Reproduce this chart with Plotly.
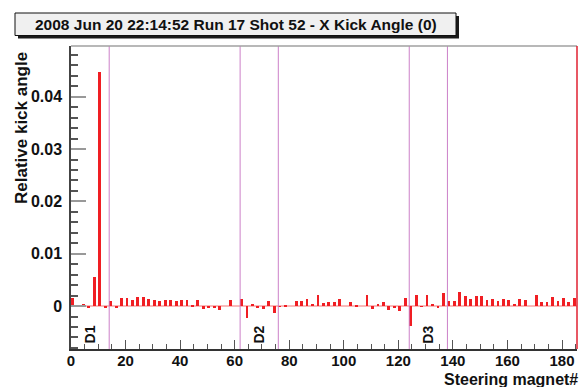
import plotly.graph_objects as go

# Steering magnet numbers (every second channel) and relative X kick angles
magnets = list(range(0, 186, 2))
kick = [
    0.0016, 0.0000, 0.0004, -0.0002, 0.0056, 0.0448, -0.0002, 0.0010, -0.0002, 0.0015,
    0.0016, 0.0012, 0.0017, 0.0017, 0.0014, 0.0011, 0.0010, 0.0012, 0.0011, 0.0010,
    0.0012, 0.0011, 0.0001, 0.0012, -0.0005, -0.0004, -0.0003, -0.0008, 0.0000, 0.0011,
    0.0000, 0.0013, -0.0023, 0.0004, -0.0002, -0.0005, 0.0010, -0.0014, -0.0001, 0.0003,
    0.0000, 0.0010, 0.0010, 0.0013, 0.0004, 0.0021, 0.0006, 0.0007, 0.0008, 0.0013,
    0.0000, 0.0008, 0.0003, 0.0000, 0.0021, -0.0006, 0.0004, 0.0008, -0.0008, -0.0003,
    -0.0010, 0.0016, -0.0038, 0.0021, -0.0001, 0.0021, 0.0004, -0.0002, 0.0025, 0.0010,
    0.0009, 0.0027, 0.0020, 0.0013, 0.0020, 0.0019, 0.0011, 0.0014, 0.0009, 0.0014,
    0.0011, 0.0004, 0.0013, 0.0011, 0.0000, 0.0021, 0.0008, 0.0008, 0.0018, 0.0010,
    0.0015, 0.0008, 0.0016,
]

# Section boundaries (vertical markers) and section labels
section_bounds = [14, 62, 76, 124, 138]
section_names = ["D1", "D2", "D3"]
section_label_x = [7, 69, 131]
section_label_y = -0.0054

x_ticks = list(range(0, 181, 20))
y_ticks = [0, 0.01, 0.02, 0.03, 0.04]
y_tick_text = ["0", "0.01", "0.02", "0.03", "0.04"]

title_text = "2008 Jun 20 22:14:52 Run 17 Shot 52 - X Kick Angle (0)"

W, H = 580, 387
PL, PR, PT, PB = 71, 577, 46, 349
X_RANGE = [0, 185.5]
Y_RANGE = [-0.0082, 0.0497]
FONT = "Liberation Sans, Arial, Helvetica, sans-serif"


def px_x(p):
    return (p - PL) / (PR - PL)


def px_y(p):
    return (PB - p) / (PB - PT)


fig = go.Figure()
fig.add_trace(go.Bar(
    x=magnets, y=kick, width=1.05, offset=0,
    marker=dict(color="#f01e23", line=dict(width=0)),
    hoverinfo="x+y",
))

shapes = []
# zero baseline
shapes.append(dict(type="line", xref="x", yref="y", x0=X_RANGE[0], x1=X_RANGE[1],
                   y0=0, y1=0, line=dict(color="rgba(240,90,90,0.55)", width=1.5),
                   layer="below"))
# section markers
for b in section_bounds:
    shapes.append(dict(type="line", xref="x", yref="paper", x0=b, x1=b, y0=0, y1=1,
                       line=dict(color="#cc80c8", width=1)))
# frame: top in gray, right in red
shapes.append(dict(type="line", xref="paper", yref="paper", x0=0, x1=1, y0=1, y1=1,
                   line=dict(color="#a0a0a0", width=1.5)))
shapes.append(dict(type="line", xref="paper", yref="paper", x0=1, x1=1, y0=0, y1=1,
                   line=dict(color="#e02030", width=1.5)))
# title box with drop shadow
shapes.append(dict(type="rect", xref="paper", yref="paper",
                   x0=px_x(18), x1=px_x(459), y0=px_y(38.5), y1=px_y(16),
                   fillcolor="#1a1a1a", line=dict(width=0)))
shapes.append(dict(type="rect", xref="paper", yref="paper",
                   x0=px_x(15), x1=px_x(456), y0=px_y(35.5), y1=px_y(13),
                   fillcolor="#f0f0f0", line=dict(color="#111111", width=1)))

annotations = [
    dict(text=title_text, xref="paper", yref="paper", x=px_x(236), y=px_y(24.5),
         xanchor="center", yanchor="middle", showarrow=False,
         font=dict(family=FONT, size=15.5, color="#111111", weight="bold")),
    dict(text="Relative kick angle", xref="paper", yref="paper", x=px_x(21), y=px_y(50),
         xanchor="center", yanchor="top", textangle=-90, showarrow=False,
         font=dict(family=FONT, size=17, color="#111111", weight="bold")),
    dict(text="Steering magnet#", xref="paper", yref="paper", x=px_x(579), y=px_y(389),
         xanchor="right", yanchor="bottom", showarrow=False, borderpad=0,
         font=dict(family=FONT, size=16, color="#111111", weight="bold")),
]
for name, lx in zip(section_names, section_label_x):
    annotations.append(dict(text=name, xref="x", yref="y", x=lx, y=section_label_y,
                            textangle=-90, showarrow=False, xanchor="center", yanchor="middle",
                            font=dict(family=FONT, size=14, color="#111111", weight="bold")))

fig.update_layout(
    width=W, height=H,
    margin=dict(l=PL, r=W - PR, t=PT, b=H - PB, pad=0),
    paper_bgcolor="white", plot_bgcolor="white",
    showlegend=False, bargap=0,
    shapes=shapes, annotations=annotations,
    font=dict(family=FONT, color="#111111"),
)
fig.update_xaxes(
    range=X_RANGE, showgrid=False, zeroline=False,
    showline=True, linecolor="#333333", linewidth=1.5,
    tickmode="array", tickvals=x_ticks,
    ticks="inside", ticklen=9, tickcolor="#555555", tickwidth=1,
    ticklabelstandoff=-3,
    tickfont=dict(family=FONT, size=15, color="#111111", weight="bold"),
    minor=dict(dtick=5, tick0=0, ticks="inside", ticklen=5, tickcolor="#555555", showgrid=False),
)
fig.update_yaxes(
    range=Y_RANGE, showgrid=False, zeroline=False,
    showline=True, linecolor="#444444", linewidth=1.5,
    tickmode="array", tickvals=y_ticks, ticktext=y_tick_text,
    ticks="inside", ticklen=15, tickcolor="#999999", tickwidth=1.5,
    tickfont=dict(family=FONT, size=16, color="#111111", weight="bold"),
    ticklabelstandoff=4,
    minor=dict(dtick=0.002, tick0=0, ticks="inside", ticklen=7, tickcolor="#555555", showgrid=False),
)

fig.write_html("out.html")
